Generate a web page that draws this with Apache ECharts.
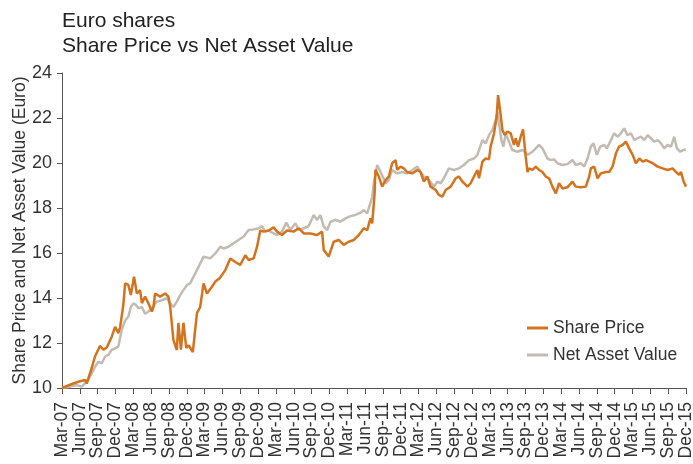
<!DOCTYPE html>
<html>
<head>
<meta charset="utf-8">
<script src="https://cdn.jsdelivr.net/npm/echarts@6/dist/echarts.min.js"></script>
<style>
html,body{margin:0;padding:0;background:#fff;}
#chart{width:693px;height:464px;}
</style>
</head>
<body>
<div id="chart"></div>
<script>
// Quarter tick labels (x index 0..35)
var tickLabels = ['Mar-07','Jun-07','Sep-07','Dec-07','Mar-08','Jun-08','Sep-08','Dec-08',
  'Mar-09','Jun-09','Sep-09','Dec-09','Mar-10','Jun-10','Sep-10','Dec-10',
  'Mar-11','Jun-11','Sep-11','Dec-11','Mar-12','Jun-12','Sep-12','Dec-12',
  'Mar-13','Jun-13','Sep-13','Dec-13','Mar-14','Jun-14','Sep-14','Dec-14',
  'Mar-15','Jun-15','Sep-15','Dec-15'];

// Share Price: time in quarters since Mar-07, value in Euro
var sharePriceQ = [0,0.06,0.63,0.92,1.29,1.39,1.67,1.85,2.13,2.32,2.51,2.79,2.98,3.16,3.26,3.44,3.54,3.72,3.86,4.04,4.20,4.38,4.48,4.66,4.85,5.04,5.13,5.22,5.51,5.79,5.97,6.07,6.25,6.44,6.53,6.67,6.81,6.97,7.10,7.34,7.47,7.57,7.75,7.94,8.13,8.41,8.60,8.84,9.16,9.44,9.72,10.0,10.28,10.47,10.75,10.94,11.12,11.31,11.59,11.87,12.06,12.34,12.62,12.99,13.28,13.56,13.93,14.31,14.59,14.68,14.96,15.24,15.52,15.80,16.08,16.37,16.65,16.93,17.12,17.30,17.40,17.53,17.58,17.77,17.96,18.15,18.33,18.52,18.71,18.80,18.99,19.17,19.36,19.65,19.93,20.11,20.30,20.49,20.67,20.96,21.14,21.33,21.52,21.80,22.08,22.26,22.46,22.74,22.92,23.11,23.30,23.39,23.58,23.76,23.95,24.04,24.23,24.38,24.46,24.57,24.70,24.83,24.98,25.17,25.35,25.45,25.58,25.73,25.86,26.01,26.11,26.20,26.39,26.57,26.76,26.95,27.13,27.32,27.51,27.70,27.88,28.07,28.35,28.63,28.82,29.10,29.38,29.57,29.66,29.85,30.04,30.22,30.51,30.69,30.88,31.07,31.25,31.44,31.63,31.81,32.01,32.19,32.38,32.57,32.75,32.94,33.13,33.41,33.69,33.97,34.25,34.44,34.62,34.72,34.87,35.0];
var sharePrice = [10.0,10.06,10.2,10.28,10.36,10.2,10.9,11.4,11.87,11.7,11.8,12.28,12.72,12.44,12.7,13.7,14.65,14.58,14.13,14.95,14.2,14.35,13.77,14.06,13.76,13.4,13.6,14.2,14.06,14.2,14.06,13.6,12.13,11.69,12.9,11.7,12.9,11.78,11.9,11.6,12.6,13.33,13.6,14.65,14.2,14.5,14.73,14.88,15.24,15.76,15.6,15.47,15.9,15.69,15.76,16.28,17.0,16.95,17.0,17.14,16.95,16.8,17.0,16.95,17.1,16.87,16.87,16.8,16.95,16.13,15.84,16.5,16.58,16.36,16.5,16.58,16.8,17.1,17.02,17.54,17.32,18.58,19.7,19.4,18.95,19.24,19.4,19.99,20.13,19.7,19.84,19.76,19.6,19.54,19.69,19.6,19.17,19.4,18.95,18.8,18.58,18.5,18.8,18.95,19.32,19.4,19.17,18.95,19.1,19.4,19.69,19.32,20.06,20.2,20.16,20.73,21.3,22.06,23.02,22.36,21.47,21.24,21.4,21.32,20.8,21.1,20.73,21.17,21.5,20.28,19.6,19.76,19.69,19.84,19.69,19.6,19.4,19.32,18.95,18.65,19.1,18.87,18.92,19.17,18.95,18.92,18.95,19.4,19.76,19.84,19.32,19.54,19.6,19.6,19.84,20.43,20.73,20.8,20.95,20.65,20.36,19.99,20.2,20.06,20.13,20.06,19.99,19.84,19.76,19.69,19.76,19.6,19.47,19.6,19.17,18.95];

// Net Asset Value
var navQ = [0,0.07,0.45,0.83,1.11,1.39,1.67,1.85,2.04,2.23,2.42,2.60,2.79,2.98,3.16,3.35,3.54,3.72,3.86,4.01,4.16,4.29,4.48,4.66,4.85,5.04,5.32,5.60,5.88,6.07,6.25,6.44,6.63,6.81,7.01,7.19,7.38,7.57,7.94,8.31,8.60,8.88,9.06,9.34,9.62,9.90,10.19,10.47,10.75,11.03,11.22,11.40,11.59,11.87,12.06,12.34,12.58,12.81,13.09,13.28,13.56,13.84,14.12,14.31,14.49,14.68,14.87,15.06,15.34,15.62,15.90,16.18,16.46,16.74,16.93,17.12,17.26,17.40,17.49,17.68,17.87,18.15,18.33,18.52,18.80,19.08,19.36,19.65,19.93,20.11,20.30,20.58,20.86,21.05,21.24,21.42,21.70,21.98,22.26,22.54,22.83,23.11,23.30,23.58,23.76,23.95,24.14,24.33,24.42,24.51,24.65,24.76,24.89,25.07,25.26,25.54,25.82,26.11,26.39,26.57,26.76,26.95,27.23,27.42,27.60,27.79,28.07,28.35,28.63,28.82,29.10,29.29,29.48,29.66,29.81,30.0,30.19,30.41,30.56,30.75,30.97,31.16,31.35,31.53,31.72,31.91,32.10,32.29,32.47,32.66,32.85,33.03,33.22,33.41,33.60,33.78,33.97,34.16,34.34,34.49,34.68,34.87,35.0];
var nav = [10.0,10.03,10.06,10.13,10.06,10.28,10.65,10.95,11.17,11.1,11.4,11.47,11.7,11.76,11.84,12.58,13.0,13.17,13.6,13.76,13.68,13.54,13.6,13.3,13.4,13.54,13.84,13.9,13.99,13.76,13.6,13.84,14.13,14.35,14.58,14.65,14.95,15.24,15.84,15.76,15.98,16.28,16.2,16.28,16.43,16.58,16.73,17.02,17.05,17.1,17.2,16.95,17.0,16.87,16.8,16.95,17.35,17.02,17.32,17.02,17.1,17.2,17.69,17.47,17.69,17.17,17.02,17.39,17.47,17.39,17.54,17.64,17.69,17.79,17.91,17.76,18.13,18.5,19.1,19.91,19.6,19.1,19.24,19.69,19.54,19.6,19.54,19.69,19.84,19.6,19.4,19.24,18.95,19.17,19.1,19.32,19.76,19.69,19.76,19.91,20.13,20.2,20.36,21.02,20.87,21.24,21.47,21.91,22.28,21.76,21.02,20.73,21.32,20.95,20.58,20.5,20.58,20.36,20.5,20.65,20.8,20.65,20.2,20.13,20.16,19.99,19.91,19.95,20.13,19.91,19.99,19.84,20.2,20.73,20.87,20.36,20.73,20.8,20.65,20.95,21.32,21.17,21.32,21.54,21.24,21.32,21.02,21.1,21.17,21.02,21.24,21.1,20.95,21.02,20.87,20.65,20.8,20.73,21.17,20.65,20.5,20.58,20.6];

function pairs(xs, ys) {
  var out = [];
  for (var i = 0; i < xs.length; i++) out.push([xs[i], ys[i]]);
  return out;
}

var orange = '#D4731E';
var grey = '#C3BBB1';
var font = '"Liberation Sans", Arial, Helvetica, sans-serif';

var chart = echarts.init(document.getElementById('chart'), null, {renderer: 'canvas'});
chart.setOption({
  animation: false,
  backgroundColor: '#ffffff',
  title: {
    text: 'Euro shares\nShare Price vs Net Asset Value',
    left: 57,
    top: 4,
    textStyle: {fontFamily: font, fontSize: 21, fontWeight: 'normal', color: '#222', lineHeight: 25}
  },
  grid: {left: 62, right: 7, top: 73, bottom: 76, containLabel: false, outerBoundsMode: 'none'},
  legend: {
    data: ['Share Price', 'Net Asset Value'],
    orient: 'vertical',
    left: 522,
    top: 314,
    itemGap: 9,
    itemWidth: 21,
    itemHeight: 3,
    icon: 'rect',
    textStyle: {fontFamily: font, fontSize: 17.5, color: '#333'}
  },
  xAxis: {
    type: 'value',
    min: 0,
    max: 35,
    interval: 1,
    axisLine: {lineStyle: {color: '#555', width: 1}},
    axisTick: {show: true, length: 6, lineStyle: {color: '#555'}},
    splitLine: {show: false},
    axisLabel: {
      rotate: 90,
      margin: 14,
      fontFamily: font,
      fontSize: 17.5,
      color: '#333',
      formatter: function (v) { return tickLabels[Math.round(v)] || ''; }
    }
  },
  yAxis: {
    type: 'value',
    min: 10,
    max: 24,
    interval: 2,
    name: 'Share Price and Net Asset Value (Euro)',
    nameLocation: 'middle',
    nameRotate: 90,
    nameGap: 33,
    nameMoveOverlap: false,
    nameTextStyle: {fontFamily: font, fontSize: 17.5, color: '#333'},
    axisLine: {show: true, lineStyle: {color: '#555', width: 1}},
    axisTick: {show: true, length: 5, lineStyle: {color: '#555'}},
    splitLine: {show: false},
    axisLabel: {fontFamily: font, fontSize: 18, color: '#333', margin: 10}
  },
  series: [
    {
      name: 'Net Asset Value',
      type: 'line',
      data: pairs(navQ, nav),
      showSymbol: false,
      symbol: 'none',
      lineStyle: {color: grey, width: 2.5},
      itemStyle: {color: grey},
      z: 2
    },
    {
      name: 'Share Price',
      type: 'line',
      data: pairs(sharePriceQ, sharePrice),
      showSymbol: false,
      symbol: 'none',
      lineStyle: {color: orange, width: 2.5},
      itemStyle: {color: orange},
      z: 3
    }
  ]
});
</script>
</body>
</html>
